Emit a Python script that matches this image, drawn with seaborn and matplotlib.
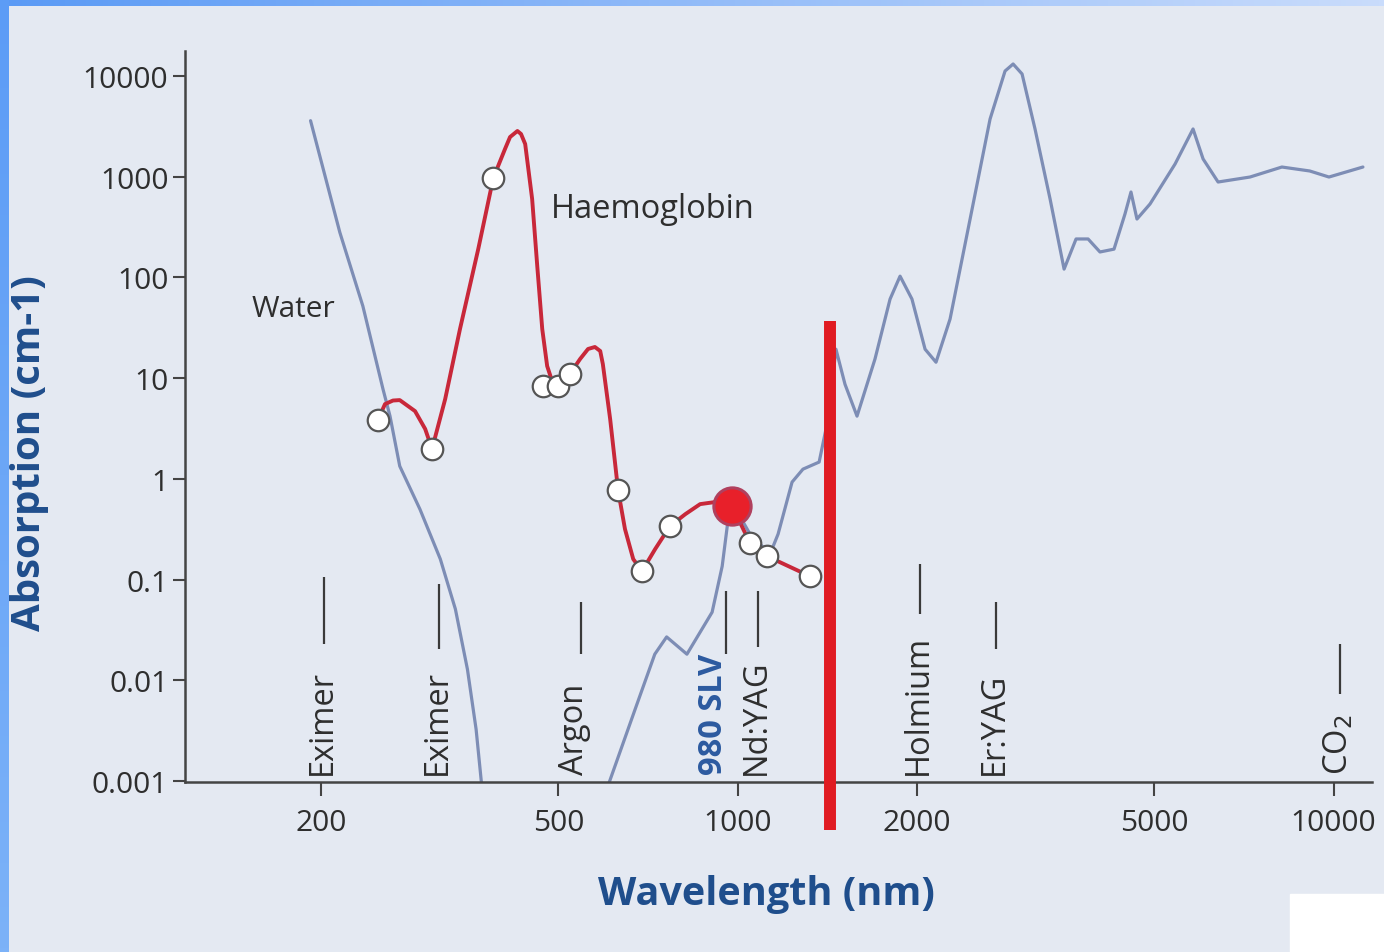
"""
Absorption spectra of water and haemoglobin with common surgical laser lines.
"""

import numpy as np
import matplotlib.pyplot as plt
import seaborn as sns
from matplotlib.patches import Rectangle

# Water absorption, two pieces (it drops below the plotted range around 400-600 nm)
water_nm_a = [192, 215, 235, 254, 261, 271, 293, 317, 336, 352, 364, 372]
water_abs_a = [3600, 280, 52, 7.8, 4.2, 1.34, 0.50, 0.16, 0.051, 0.0129, 0.00327, 0.0009]

water_nm_b = [606, 673, 726, 760, 822, 906, 942, 964, 982, 1049,
              1133, 1169, 1234, 1287, 1370, 1418, 1462, 1514, 1586, 1700,
              1802, 1873, 1961, 2063, 2152, 2272, 2455, 2652, 2810, 2899,
              3001, 3155, 3344, 3530, 3697, 3873, 4055, 4281, 4466, 4571,
              4678, 4920, 5420, 5810, 6040, 6400, 7240, 8190, 9120, 9823, 11200]
water_abs_b = [0.0009, 0.00518, 0.0182, 0.027, 0.0182, 0.0475, 0.136, 0.40, 0.56, 0.283,
               0.179, 0.283, 0.93, 1.25, 1.47, 3.93, 19.4, 8.7, 4.2, 15.5,
               61, 103, 61, 19.4, 14.4, 38.6, 380, 3740, 11200, 13150,
               10470, 2977, 601, 121, 241, 241, 179, 191, 426, 705,
               380, 536, 1337, 2977, 1500, 886, 993, 1248, 1140, 993, 1248]

# Haemoglobin absorption
hb_nm = [249, 256, 264, 271, 287.5, 299, 307, 323, 342, 367, 389,
         407, 415, 427, 433, 440, 452, 461, 470, 479, 490, 504, 523,
         544, 561, 576, 588, 594, 611, 630, 647, 668, 691, 727, 770,
         817, 865, 916, 979, 1049, 1120, 1323]
hb_abs = [3.84, 5.53, 6.0, 6.06, 4.71, 3.13, 1.98, 6.2, 30.7, 191, 970,
          1884, 2477, 2844, 2655, 2113, 601, 130, 30.7, 13.2, 8.74, 7.8, 11.0,
          15.5, 19.5, 20.4, 18.6, 13.8, 3.93, 0.774, 0.318, 0.16, 0.1215, 0.201, 0.34,
          0.447, 0.562, 0.589, 0.537, 0.23, 0.171, 0.108]

# measured points on the haemoglobin curve
pt_nm = [249, 307, 389, 472, 500, 523, 630, 691, 770, 1049, 1120, 1323]
pt_abs = [3.84, 1.98, 970, 8.36, 8.36, 11.0, 0.774, 0.1215, 0.34, 0.23, 0.171, 0.108]
slv_nm = [979]
slv_abs = [0.537]

# highlighted band (red bar)
bar_nm = 1430
bar_low, bar_high = 0.00033, 36.9

# laser lines
laser_names = ["Eximer", "Eximer", "Argon", "980 SLV", "Nd:YAG", "Holmium", "Er:YAG", "CO$_2$"]
laser_nm = [202, 315, 546, 956, 1082, 2023, 2714, 10250]
laser_top = [0.106, 0.090, 0.0598, 0.0769, 0.0769, 0.1425, 0.0598, 0.0229]
laser_bottom = [0.0229, 0.0204, 0.0182, 0.0182, 0.0214, 0.0454, 0.0204, 0.0073]

x_ticks = [200, 500, 1000, 2000, 5000, 10000]
y_ticks = [0.001, 0.01, 0.1, 1, 10, 100, 1000, 10000]
y_tick_labels = ["0.001", "0.01", "0.1", "1", "10", "100", "1000", "10000"]

panel = '#e4e9f2'
water_col = '#7d8db5'
red = '#c8283a'
ink = '#2e2e2e'
blue_txt = '#1f4e8c'

sns.set_style("white")
plt.rcParams['font.family'] = ['Open Sans', 'DejaVu Sans']
plt.rcParams['lines.solid_joinstyle'] = 'round'

fig = plt.figure(figsize=(13.84, 9.53), dpi=100, facecolor=panel)

# blue frame strips and white corner
top = fig.add_axes([0, 1 - 7 / 953, 1, 7 / 953])
top.imshow(np.linspace(0, 1, 256)[None, :], aspect='auto',
           cmap=sns.blend_palette(['#5a9af5', '#c9dcfc'], as_cmap=True))
top.axis('off')
left = fig.add_axes([0, 0, 9 / 1384, 1])
left.imshow(np.linspace(0, 1, 256)[:, None], aspect='auto',
            cmap=sns.blend_palette(['#5c9cf6', '#7cb2f8'], as_cmap=True))
left.axis('off')
fig.patches.append(Rectangle((1290 / 1384, 0), 94 / 1384, 58 / 953,
                             transform=fig.transFigure, color='white', zorder=5))

ax = fig.add_axes([185 / 1384, 1 - 783 / 953, 1187 / 1384, 731 / 953])
ax.set_facecolor('none')
ax.set_xscale('log')
ax.set_yscale('log')

sns.lineplot(x=water_nm_a, y=water_abs_a, sort=False, estimator=None,
             color=water_col, lw=2.3, ax=ax)
sns.lineplot(x=water_nm_b, y=water_abs_b, sort=False, estimator=None,
             color=water_col, lw=2.3, ax=ax)
sns.lineplot(x=hb_nm, y=hb_abs, sort=False, estimator=None,
             color=red, lw=2.8, ax=ax, zorder=3)
sns.scatterplot(x=pt_nm, y=pt_abs, s=240, color='white', edgecolor='#555555',
                linewidth=1.6, ax=ax, zorder=4)
sns.scatterplot(x=slv_nm, y=slv_abs, s=720, color='#e8202a', edgecolor='#b0405e',
                linewidth=2.2, ax=ax, zorder=5)

ax.vlines(bar_nm, bar_low, bar_high, color='#e01b22', lw=8.6, clip_on=False, zorder=6)

# laser markers
for name, x, t, b in zip(laser_names, laser_nm, laser_top, laser_bottom):
    ax.vlines(x, b, t, color='#3a3a3a', lw=1.6)
    if name == "980 SLV":
        ax.annotate(name, (x, 0.00117), xytext=(-9, 0), textcoords='offset points',
                    rotation=90, ha='center', va='bottom', fontsize=23.5,
                    fontweight='bold', color='#2c5aa0')
    else:
        dx = -5 if name == "Argon" else -1
        ax.annotate(name, (x, 0.00117), xytext=(dx, 0), textcoords='offset points',
                    rotation=90, ha='center', va='bottom', fontsize=23.5, color=ink)

ax.text(180, 49.7, "Water", fontsize=21.5, color=ink, ha='center', va='center')
ax.text(719, 489, "Haemoglobin", fontsize=23.5, color=ink, ha='center', va='center')

ax.set_xlim(118.2, 11600)
ax.set_ylim(0.00098, 17700)
ax.set_xticks(x_ticks)
ax.set_xticklabels([str(v) for v in x_ticks])
ax.set_yticks(y_ticks)
ax.set_yticklabels(y_tick_labels)
ax.minorticks_off()
ax.tick_params(axis='both', direction='out', width=1.5, color='#444444',
               labelsize=21.5, labelcolor=ink, left=True, bottom=True)
ax.tick_params(axis='x', length=10, pad=9)
ax.tick_params(axis='y', length=9, pad=3)
sns.despine(ax=ax)
for s in ['left', 'bottom']:
    ax.spines[s].set_color('#444444')
    ax.spines[s].set_linewidth(1.8)

fig.text(766 / 1384, 1 - 895 / 953, "Wavelength (nm)", fontsize=28.5, fontweight='bold',
         color=blue_txt, ha='center', va='center')
fig.text(30 / 1384, 1 - 453 / 953, "Absorption (cm-1)", fontsize=29, fontweight='bold',
         color=blue_txt, ha='center', va='center', rotation=90)

fig.savefig('out.png', dpi=100, facecolor=panel)
